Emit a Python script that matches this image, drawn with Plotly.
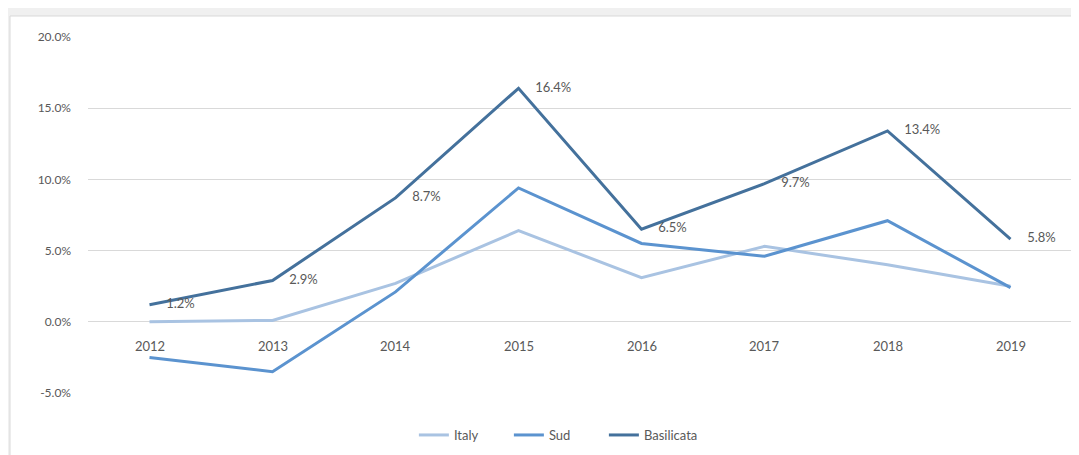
import plotly.graph_objects as go

years = ["2012", "2013", "2014", "2015", "2016", "2017", "2018", "2019"]
italy = [0.0, 0.1, 2.7, 6.4, 3.1, 5.3, 4.0, 2.5]
sud = [-2.5, -3.5, 2.1, 9.4, 5.5, 4.6, 7.1, 2.4]
basilicata = [1.2, 2.9, 8.7, 16.4, 6.5, 9.7, 13.4, 5.8]
y_ticks = [-5, 0, 5, 10, 15, 20]

FONT = "Lato, Open Sans, sans-serif"

fig = go.Figure()
fig.add_trace(go.Scatter(x=years, y=italy, name="Italy", mode="lines",
                         line=dict(color="#a9c3e2", width=3)))
fig.add_trace(go.Scatter(x=years, y=sud, name="Sud", mode="lines",
                         line=dict(color="#5b93cf", width=3)))
fig.add_trace(go.Scatter(x=years, y=basilicata, name="Basilicata", mode="lines+text",
                         line=dict(color="#44719c", width=3),
                         text=[f"{v:.1f}%" for v in basilicata],
                         texttemplate="     %{text}",
                         textposition="middle right",
                         textfont=dict(family=FONT, size=13, color="#595959"),
                         cliponaxis=False))

for i, yr in enumerate(years):
    fig.add_annotation(x=i, y=0, xref="x", yref="y", text=yr, showarrow=False,
                       yanchor="top", yshift=-14,
                       font=dict(family=FONT, size=13, color="#595959"))

fig.add_shape(type="rect", xref="paper", yref="paper", layer="below",
              x0=-78 / 984, x1=1.03, y0=-0.3, y1=1 + 21 / 356,
              fillcolor="white", line=dict(color="#d9d9d9", width=1))

fig.update_layout(
    width=1079, height=455,
    margin=dict(l=80, r=15, t=29, b=70),
    paper_bgcolor="#f0f0f0", plot_bgcolor="white",
    font=dict(family=FONT, size=12, color="#595959"),
    showlegend=True,
    legend=dict(orientation="h", x=0.476, xanchor="center", y=-0.118, yanchor="middle",
                font=dict(family=FONT, size=13, color="#595959"),
                bgcolor="rgba(0,0,0,0)", traceorder="normal",
                entrywidth=50, entrywidthmode="pixels"),
    xaxis=dict(type="category", range=[-0.5, 7.5], showgrid=False, showticklabels=False,
               zeroline=False, showline=False, ticks=""),
    yaxis=dict(range=[-5, 20], tickmode="array", tickvals=y_ticks,
               ticktext=[f"{v:.1f}%" for v in y_ticks],
               showgrid=True, gridcolor="#d9d9d9", gridwidth=1, zeroline=False,
               showline=False, ticklabelstandoff=16,
               tickfont=dict(family=FONT, size=12, color="#595959")),
)

fig.write_html("out.html")
